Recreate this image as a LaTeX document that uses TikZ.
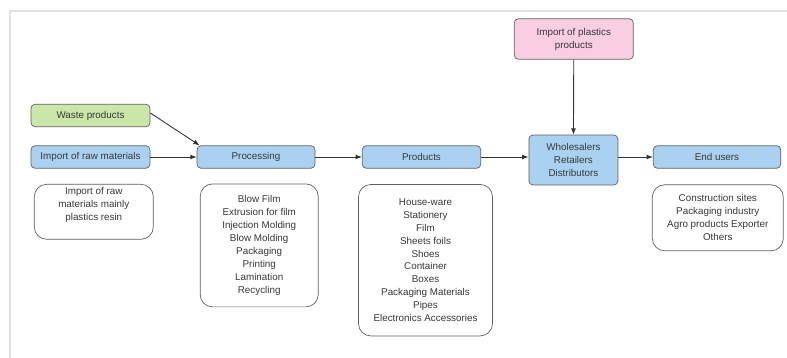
\documentclass[tikz,border=0pt]{standalone}
\usepackage{fontspec}
\setmainfont{Liberation Sans}
\usetikzlibrary{arrows.meta}
\definecolor{bleu}{RGB}{170,210,240}
\definecolor{vert}{RGB}{202,230,168}
\definecolor{rose}{RGB}{249,206,226}
\definecolor{trait}{RGB}{95,95,95}
\definecolor{texte}{RGB}{55,55,55}
\begin{document}
\begin{tikzpicture}[x=0.02cm,y=-0.02cm,
  etape/.style={draw=trait,rounded corners=2.3pt,fill=bleu,text=texte,
    font=\fontsize{5.6}{7.35}\selectfont,align=center,inner sep=1pt,
    minimum width=2.38cm,minimum height=0.45cm},
  liste/.style={draw=trait,rounded corners=7pt,fill=white,text=texte,
    font=\fontsize{5.6}{7.35}\selectfont,align=center,inner sep=1pt},
  fl/.style={-{Latex[length=3.6pt,width=2.8pt]},draw=black!80,line width=0.5pt}]
\useasboundingbox (0,0) rectangle (787,358);
% cadre
\draw[black!12,line width=0.8pt](10,358)--(10,11)--(787,11);
% etapes
\node[etape,fill=vert] (waste) at (90.5,115.5) {Waste products};
\node[etape] (raw) at (90.5,157) {Import of raw materials};
\node[etape,minimum width=2.36cm] (proc) at (256,157) {Processing};
\node[etape,minimum width=2.37cm] (prod) at (421.5,157) {Products};
\node[etape,minimum width=1.78cm,minimum height=1cm] (whole) at (573.4,160) {Wholesalers\\Retailers\\Distributors};
\node[etape,minimum width=2.55cm] (endu) at (717,157) {End users};
\node[etape,fill=rose,minimum height=0.81cm,inner ysep=2pt] (impp) at (573.8,39) {Import of plastics\\products};
% listes
\node[liste,minimum width=2.38cm,minimum height=1.1cm] (lraw) at (93.8,211.8) {Import of raw\\materials mainly\\plastics resin\\[1.5pt]};
\node[liste,minimum width=2.36cm,minimum height=2.46cm] (lproc) at (259.2,245.4) {Blow Film\\Extrusion for film\\Injection Molding\\Blow Molding\\Packaging\\Printing\\Lamination\\Recycling};
\node[liste,minimum width=2.68cm,minimum height=3.03cm] (lprod) at (425.5,260.2) {House-ware\\Stationery\\Film\\Sheets foils\\Shoes\\Container\\Boxes\\Packaging Materials\\Pipes\\Electronics Accessories};
\node[liste,minimum width=2.62cm,minimum height=1.32cm] (lend) at (717.8,217.8) {Construction sites\\Packaging industry\\Agro products Exporter\\Others};
% fleches
\draw[fl] ([yshift=0.05cm]waste.east) -- ([xshift=0.06cm]proc.north west);
\draw[fl] (raw) -- (proc);
\draw[fl] (proc) -- (prod);
\draw[fl] (prod.east) -- (prod.east-|whole.west);
\draw[fl] (whole.east|-endu.west) -- (endu.west);
\draw[fl] (impp) -- (whole);
\end{tikzpicture}
\end{document}
